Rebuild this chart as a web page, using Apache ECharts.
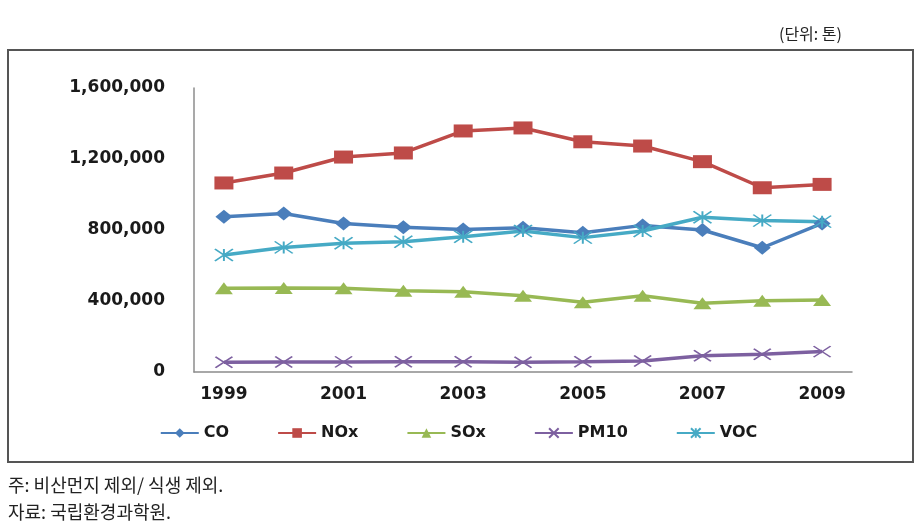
<!DOCTYPE html>
<html><head><meta charset="utf-8">
<script src="https://cdn.jsdelivr.net/npm/echarts@6/dist/echarts.min.js"></script>
<style>html,body{margin:0;padding:0;background:#fff}#c{width:917px;height:529px}</style>
</head><body><div id="c"></div>
<script>
const years = ['1999','2000','2001','2002','2003','2004','2005','2006','2007','2008','2009'];
const yTicks = [0, 400000, 800000, 1200000, 1600000];
const CO   = [875000, 893000, 837000, 815000, 803000, 813000, 785000, 826000, 800000, 700000, 837000];
const NOx  = [1065000, 1121000, 1211000, 1234000, 1358000, 1375000, 1297000, 1273000, 1185000, 1038000, 1057000];
const SOx  = [472000, 473000, 472000, 458000, 452000, 430000, 393000, 430000, 387000, 402000, 406000];
const PM10 = [55000, 56000, 57000, 58000, 58000, 55000, 58000, 62000, 92000, 100000, 115000];
const VOC  = [659000, 702000, 725000, 734000, 762000, 794000, 757000, 794000, 872000, 853000, 847000];
const unitText = '(단위: 톤)';
const note1 = '주: 비산먼지 제외/ 식생 제외.';
const note2 = '자료: 국립환경과학원.';

const chart = echarts.init(document.getElementById('c'));
const lab = {fontFamily:'DejaVu Sans', fontWeight:'bold', fontSize:17, color:'#1a1a1a'};
const xSym = 'path://M0,0L10,10M10,0L0,10';
const starSym = 'path://M0,0L10,10M10,0L0,10M5,0L5,10';
function mk(name, data, color, symbol, size, stroke){
  return {name, type:'line', data, symbol, symbolSize:size, showSymbol:true,
    lineStyle:{color, width:3.5},
    itemStyle:{color, borderColor:color, borderWidth:stroke ? 1.6 : 0},
    emphasis:{disabled:true}, z:3};
}
chart.setOption({
  animation:false,
  title:{text:unitText, right:70, top:21, textStyle:{fontFamily:'Noto Sans CJK KR', fontWeight:'normal', fontSize:16, color:'#222'}},
  grid:{left:194, top:88, right:65, bottom:157},
  legend:{bottom:83, left:'center', itemWidth:38, itemHeight:12, itemGap:48,
    textStyle:{fontFamily:'DejaVu Sans', fontWeight:'bold', fontSize:16, color:'#1a1a1a'},
    data:['CO','NOx','SOx','PM10','VOC']},
  xAxis:{type:'category', data:years, boundaryGap:true,
    axisLine:{lineStyle:{color:'#8c8c8c', width:1.5}}, axisTick:{show:false},
    axisLabel:Object.assign({interval:1, margin:14}, lab)},
  yAxis:{type:'value', min:yTicks[0], max:yTicks[yTicks.length-1], interval:400000,
    axisLine:{show:true, lineStyle:{color:'#8c8c8c', width:1.5}}, axisTick:{show:false}, splitLine:{show:false},
    axisLabel:Object.assign({margin:29, formatter:v=>v.toLocaleString('en-US')}, lab)},
  graphic:[
    {type:'rect', shape:{x:8, y:50, width:905, height:412}, style:{fill:'none', stroke:'#555', lineWidth:2}, z:0},
    {type:'text', left:8, top:476, style:{text:note1, fontFamily:'Noto Sans CJK KR', fontSize:18, fill:'#222'}},
    {type:'text', left:8, top:503, style:{text:note2, fontFamily:'Noto Sans CJK KR', fontSize:18, fill:'#222'}}
  ],
  series:[
    mk('CO', CO, '#4a7ebb', 'diamond', [17,14], false),
    mk('NOx', NOx, '#be4b48', 'rect', [19,13], false),
    mk('SOx', SOx, '#98b954', 'triangle', [18,12], false),
    mk('PM10', PM10, '#7d60a0', xSym, [17,11], true),
    mk('VOC', VOC, '#46aac5', starSym, [18,12], true)
  ]
});
</script></body></html>
